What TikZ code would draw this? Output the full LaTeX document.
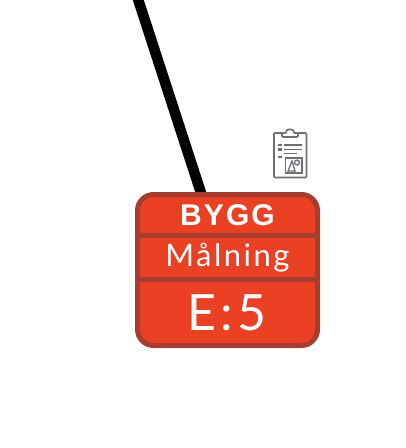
\documentclass[tikz,border=0pt]{standalone}
\usepackage{fontspec}
\setmainfont{Liberation Sans}
\newfontfamily\boldf[LetterSpace=7]{Liberation Sans Bold}
\newfontfamily\midf[LetterSpace=8]{Lato}
\newfontfamily\bigf[LetterSpace=8]{Lato}
\definecolor{boxfill}{HTML}{EA4023}
\definecolor{boxedge}{HTML}{A63D30}
\definecolor{icongray}{HTML}{6E6E76}
\tikzset{
  x=1pt,y=-1pt,
  connector/.style={line width=10.5pt,black},
  boxstyle/.style={draw=boxedge,fill=boxfill,line width=5pt,rounded corners=16pt,minimum width=180pt,minimum height=151pt,inner sep=0pt},
  boxlabel/.style={text=white,inner sep=0pt,anchor=base},
  iconline/.style={icongray,line width=1.7pt},
  iconthin/.style={icongray,line width=1.3pt},
  iconbar/.style={icongray,line width=2.2pt}
}
\begin{document}
\begin{tikzpicture}
\useasboundingbox (0,0) rectangle (406,448);
\coordinate (free) at (137,-4);
\coordinate (entry) at (202,196);
\draw[connector] (free) -- (entry);
\node[boxstyle] (box) at (227.5,270) {};
\draw[boxedge,line width=5pt] (box.west |- 0,235) -- (box.east |- 0,235);
\draw[boxedge,line width=5pt] (box.west |- 0,279) -- (box.east |- 0,279);
\node[boxlabel] (t1) at (227.5,225) {\fontsize{30pt}{30pt}\boldf BYGG};
\node[boxlabel] (t2) at (227.5,266) {\fontsize{31pt}{31pt}\midf Målning};
\node[boxlabel] (t3) at (227,330) {\fontsize{50pt}{50pt}\bigf E:5};
% clipboard icon
\draw[iconline,rounded corners=1pt] (282,133) -- (274,133) -- (274,177.5) -- (306.5,177.5) -- (306.5,133) -- (298,133);
\draw[iconline,rounded corners=1pt] (282,137) -- (282,133) -- (286,133) -- (287,129.5) -- (293,129.5) -- (294,133) -- (298,133) -- (298,137) -- cycle;
\draw[iconbar] (278,145) -- (282,145);
\draw[iconbar] (278,149.5) -- (282,149.5);
\draw[iconbar] (278,157) -- (282,157);
\draw[iconline] (284,145) -- (302,145);
\draw[iconline] (284,149.5) -- (302,149.5);
\draw[iconline] (284,153.5) -- (297,153.5);
\draw[iconline] (285.5,158) rectangle (302,173);
\draw[iconthin] (288,171) -- (292,161) -- (295,171) -- cycle;
\draw[iconthin] (297,162.5) circle (2.5);
\end{tikzpicture}
\end{document}
